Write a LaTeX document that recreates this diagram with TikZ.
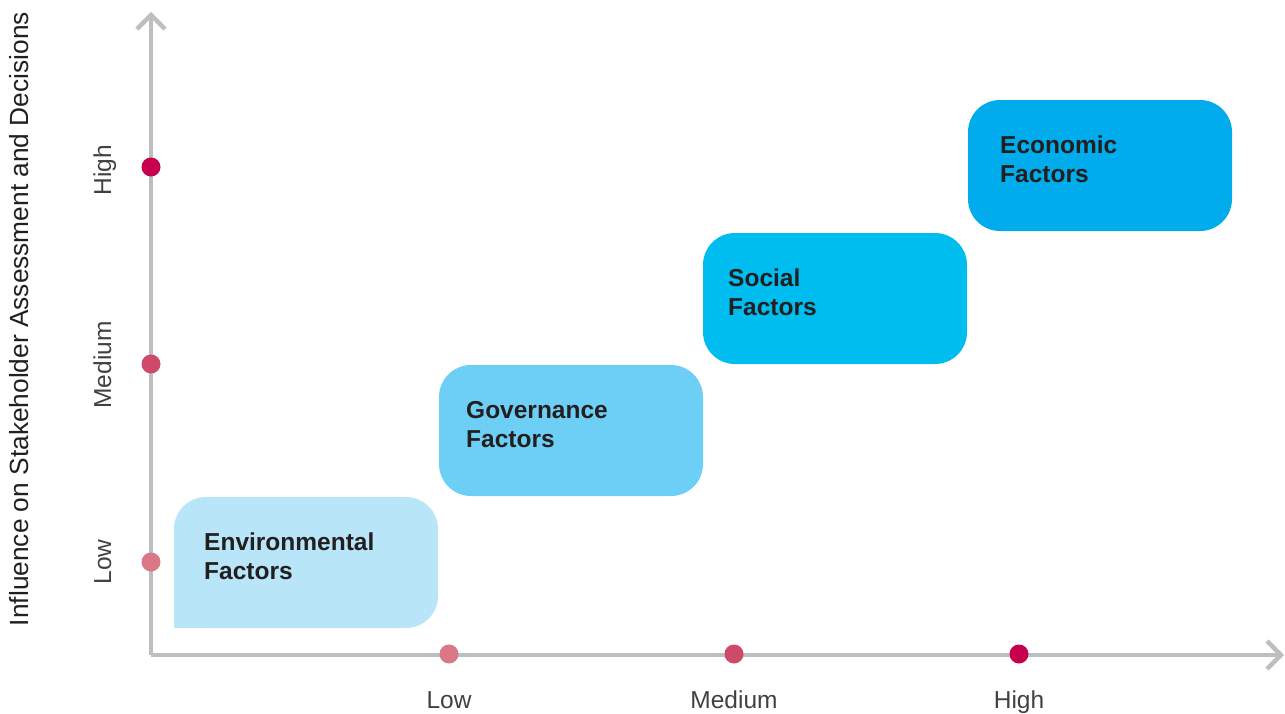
\documentclass[tikz,border=0pt]{standalone}
\usepackage{fontspec}
\setmainfont{Liberation Sans}
\definecolor{axisgray}{HTML}{BCBEC0}
\definecolor{txtdark}{HTML}{231F20}
\definecolor{lblgray}{HTML}{414042}
\definecolor{envcol}{HTML}{B9E5F8}
\definecolor{govcol}{HTML}{6DCFF6}
\definecolor{soccol}{HTML}{00BDF0}
\definecolor{ecocol}{HTML}{00ACEC}
\definecolor{dothigh}{HTML}{C6004F}
\definecolor{dotmed}{HTML}{CE4A6A}
\definecolor{dotlow}{HTML}{DB7886}
\begin{document}
\begin{tikzpicture}[x=1pt,y=-1pt,
  axisline/.style={draw=axisgray,line width=4.5pt},
  chevron/.style={draw=axisgray,line width=4.5pt,line join=miter},
  factorbox/.style={rounded corners=32pt},
  factortext/.style={anchor=north west,inner sep=0pt,align=left,text=txtdark,
    font=\fontsize{24.5}{29}\selectfont\bfseries},
  dot/.style={circle,inner sep=0pt,minimum size=19pt},
  ylabel/.style={rotate=90,anchor=base,inner sep=0pt,text=lblgray,font=\fontsize{24.5}{28}\selectfont},
  xlabel/.style={anchor=base,inner sep=0pt,text=lblgray,font=\fontsize{24.5}{28}\selectfont},
  ytitle/.style={rotate=90,anchor=base,inner sep=0pt,text=txtdark,font=\fontsize{26.3}{30}\selectfont}]
\useasboundingbox (0,0) rectangle (1285,713);
% boxes
\fill[envcol,factorbox] (174,497) rectangle (438,628);
\fill[envcol] (174,580) rectangle (230,628);
\fill[govcol,factorbox] (439,365) rectangle (703,496);
\fill[soccol,factorbox] (703,233) rectangle (967,364);
\fill[ecocol,factorbox] (968,100) rectangle (1232,231);
\node[factortext] (envt) at (204,533) {Environmental\\Factors};
\node[factortext] (govt) at (466,401) {Governance\\Factors};
\node[factortext] (soct) at (728,269) {Social\\Factors};
\node[factortext] (ecot) at (1000,136) {Economic\\Factors};
% axes
\coordinate (origin) at (151,655);
\coordinate (ytip) at (151,15);
\coordinate (xtip) at (1281,655);
\draw[axisline] (origin) -- (ytip);
\draw[axisline] (origin) -- (xtip);
\draw[chevron] ([xshift=-14pt,yshift=-14pt]ytip) -- (ytip) -- ([xshift=14pt,yshift=-14pt]ytip);
\draw[chevron] ([xshift=-14pt,yshift=-14pt]xtip) -- (xtip) -- ([xshift=-14pt,yshift=14pt]xtip);
% dots
\node[dot,fill=dothigh] (yh) at (151,167) {};
\node[dot,fill=dotmed] (ym) at (151,364) {};
\node[dot,fill=dotlow] (yl) at (151,562) {};
\node[dot,fill=dotlow] (xl) at (449,654) {};
\node[dot,fill=dotmed] (xm) at (734,654) {};
\node[dot,fill=dothigh] (xh) at (1019,654) {};
% labels
\node[ylabel] (yhl) at (111,170) {High};
\node[ylabel] (yml) at (111,365) {Medium};
\node[ylabel] (yll) at (111,562) {Low};
\node[xlabel] (xll) at (449,708) {Low};
\node[xlabel] (xml) at (734,708) {Medium};
\node[xlabel] (xhl) at (1019,708) {High};
\node[ytitle] (yt) at (28,319) {Influence on Stakeholder Assessment and Decisions};
\end{tikzpicture}
\end{document}
